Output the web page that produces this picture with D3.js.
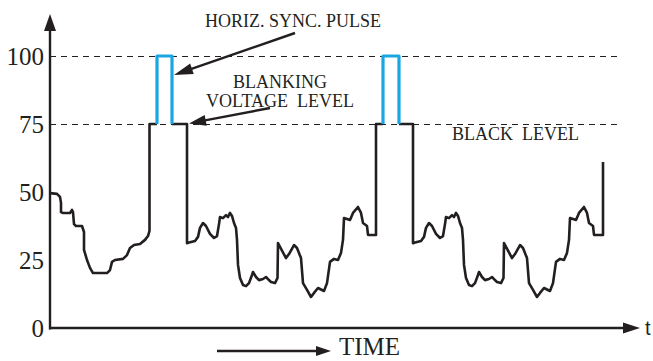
<!DOCTYPE html>
<html>
<head>
<meta charset="utf-8">
<script src="https://cdn.jsdelivr.net/npm/d3@7"></script>
<style>
  body { margin: 0; background: #fff; }
  svg { display: block; }
  .lbl { font-family: "Liberation Serif", "Times New Roman", serif; fill: #231f20; white-space: pre; }
</style>
</head>
<body>
<div id="chart"></div>
<script>
// signal level ticks (percent of max amplitude)
var levelTicks = [0, 25, 50, 75, 100];
var refLevels = [75, 100];

// sync pulses: [start time, end time] sitting on the blanking level
var syncPulses = [[107, 122], [333, 349]];
var blankLevel = 75;
var syncLevel = 100;

// video signal, [time, level]
var video1 = [[0, 49.6], [7, 49.3], [10, 48.2], [11, 46], [11, 42.6], [13, 42.3], [20, 42.3], [22, 43.4],
  [23, 42.6], [24, 38.2], [26, 37.5], [32, 37.5], [34, 35.3], [34, 28.7], [37, 25], [40, 22.1], [43, 20.2],
  [57, 20.2], [60, 21.3], [62, 24.3], [65, 25], [73, 25.4], [77, 26.8], [80, 29.4], [84, 30.5], [90, 30.9],
  [95, 32.4], [98, 33.8], [99.5, 35.7], [99.5, 75], [107, 75]];

var video2 = [[122, 75], [137, 75], [137, 31.2], [139, 31.4], [145, 32], [148, 33.5], [150, 36.8], [153, 38.6],
  [156, 37.5], [160, 34.6], [164, 33.1], [167, 33.8], [169, 38.2], [170, 40.8], [173, 40.4], [176, 41.5],
  [178, 40.8], [180, 42.3], [182, 41.2], [184, 38.6], [186, 36.8], [187, 32.4], [188, 23.2], [190, 18.4],
  [193, 15.8], [196, 15.4], [199, 16.5], [202, 19.5], [203, 20.6], [206, 18.75], [209, 17.6], [213, 18],
  [216, 18.75], [218, 18], [221, 16.9], [225, 16.5], [227.5, 18.4], [228, 31.2], [236, 25.7], [239, 27.2],
  [244, 30.5], [247, 29.4], [251, 25.7], [253, 16.5], [257, 14], [261, 11.4], [264, 12.9], [268, 14.7],
  [274, 13.6], [277, 16.5], [280, 24.3], [284, 25.4], [288, 25], [291, 27.6], [293, 32.4], [294, 40.4],
  [300, 39.7], [303, 42.3], [308, 44.5], [311, 42.3], [313, 38.6], [317, 37.5], [318, 34.2], [326, 34.2],
  [326, 75], [333, 75]];

var video3 = [[349, 75], [363, 75], [363, 31.2], [365, 31.4], [371, 32], [374, 33.5], [376, 36.8], [379, 38.6],
  [382, 37.5], [386, 34.6], [390, 33.1], [393, 33.8], [395, 38.2], [396, 40.8], [399, 40.4], [402, 41.5],
  [404, 40.8], [406, 42.3], [408, 41.2], [410, 38.6], [412, 36.8], [413, 32.4], [414, 23.2], [416, 18.4],
  [419, 15.8], [422, 15.4], [425, 16.5], [428, 19.5], [429, 20.6], [432, 18.75], [435, 17.6], [439, 18],
  [442, 18.75], [444, 18], [447, 16.9], [451, 16.5], [453.5, 18.4], [454, 31.2], [462, 25.7], [465, 27.2],
  [470, 30.5], [473, 29.4], [477, 25.7], [479, 16.5], [483, 14], [487, 11.4], [490, 12.9], [494, 14.7],
  [500, 13.6], [503, 16.5], [506, 24.3], [510, 25.4], [514, 25], [517, 27.6], [519, 32.4], [520, 40.4],
  [526, 39.7], [529, 42.3], [534, 44.5], [537, 42.3], [539, 38.6], [543, 37.5], [544, 34.2], [553, 34.2],
  [553, 61]];

var width = 653, height = 361;
var ink = "#231f20";
var blue = "#1aa7e1";

var svg = d3.select("#chart").append("svg")
  .attr("width", width)
  .attr("height", height);

var x = d3.scaleLinear().domain([0, 590]).range([50, 640]);
var y = d3.scaleLinear().domain([0, 100]).range([328, 56]);

// dashed reference levels
svg.selectAll(".ref").data(refLevels).enter()
  .append("line")
  .attr("class", "ref")
  .attr("x1", x(0)).attr("x2", 622)
  .attr("y1", function(d) { return y(d) + 0.5; })
  .attr("y2", function(d) { return y(d) + 0.5; })
  .attr("stroke", ink)
  .attr("stroke-width", 1.2)
  .attr("stroke-dasharray", "6,5");

// y tick labels
var yAxis = svg.append("g")
  .attr("transform", "translate(" + x(0) + ",0)")
  .call(d3.axisLeft(y).tickValues(levelTicks).tickSize(0).tickPadding(6));
yAxis.select(".domain").remove();
yAxis.selectAll("text")
  .attr("class", "lbl")
  .attr("font-size", "25px")
  .attr("fill", ink);

// axes with arrow heads
svg.append("line")
  .attr("x1", x(0)).attr("y1", y(0) + 1.5)
  .attr("x2", x(0)).attr("y2", 28)
  .attr("stroke", ink).attr("stroke-width", 2.4);
svg.append("path")
  .attr("d", "M" + (x(0) - 6) + ",31L" + x(0) + ",14L" + (x(0) + 6) + ",31Z")
  .attr("fill", ink);
svg.append("line")
  .attr("x1", x(0) - 1).attr("y1", y(0))
  .attr("x2", 626).attr("y2", y(0))
  .attr("stroke", ink).attr("stroke-width", 2.4);
svg.append("path")
  .attr("d", "M623," + (y(0) - 5.5) + "L" + x(590) + "," + y(0) + "L623," + (y(0) + 5.5) + "Z")
  .attr("fill", ink);
svg.append("text")
  .attr("x", 645).attr("y", 335)
  .attr("font-family", "'Liberation Sans', Arial, sans-serif")
  .attr("font-size", "20px")
  .attr("fill", ink)
  .text("t");

var line = d3.line()
  .x(function(d) { return x(d[0]); })
  .y(function(d) { return y(d[1]); });

// black video segments
svg.selectAll(".video").data([video1, video2, video3]).enter()
  .append("path")
  .attr("class", "video")
  .attr("d", line)
  .attr("fill", "none")
  .attr("stroke", ink)
  .attr("stroke-width", 2.6)
  .attr("stroke-linejoin", "round");

// blue sync pulses
svg.selectAll(".sync").data(syncPulses).enter()
  .append("path")
  .attr("class", "sync")
  .attr("d", function(d) {
    return line([[d[0], blankLevel], [d[0], syncLevel], [d[1], syncLevel], [d[1], blankLevel]]);
  })
  .attr("fill", "none")
  .attr("stroke", blue)
  .attr("stroke-width", 3.2)
  .attr("stroke-linejoin", "round");

// annotation arrows
function arrow(x1, y1, x2, y2, len, half) {
  var a = Math.atan2(y2 - y1, x2 - x1);
  var bx = x2 - len * Math.cos(a), by = y2 - len * Math.sin(a);
  svg.append("line")
    .attr("x1", x1).attr("y1", y1)
    .attr("x2", bx + 2 * Math.cos(a)).attr("y2", by + 2 * Math.sin(a))
    .attr("stroke", ink).attr("stroke-width", 2.4);
  svg.append("path")
    .attr("d", "M" + x2 + "," + y2 +
      "L" + (bx - half * Math.sin(a)) + "," + (by + half * Math.cos(a)) +
      "L" + (bx + half * Math.sin(a)) + "," + (by - half * Math.cos(a)) + "Z")
    .attr("fill", ink);
}
arrow(295, 33, x(syncPulses[0][1]) + 2, y(93), 19, 5.5);
arrow(270, 108, x(137) + 2, y(blankLevel) - 0.5, 17, 5.5);
arrow(217, 351, 331, 351, 15, 5);

var labels = [
  { t: "HORIZ. SYNC. PULSE", x: 293, y: 27, size: 18, anchor: "middle" },
  { t: "BLANKING", x: 280, y: 88, size: 18, anchor: "middle" },
  { t: "VOLTAGE  LEVEL", x: 280, y: 107, size: 18, anchor: "middle" },
  { t: "BLACK  LEVEL", x: 452, y: 140, size: 18, anchor: "start" },
  { t: "TIME", x: 339, y: 355, size: 25, anchor: "start" }
];
svg.selectAll(".note").data(labels).enter()
  .append("text")
  .attr("class", "lbl note")
  .attr("x", function(d) { return d.x; })
  .attr("y", function(d) { return d.y; })
  .attr("font-size", function(d) { return d.size + "px"; })
  .attr("text-anchor", function(d) { return d.anchor; })
  .text(function(d) { return d.t; });
</script>
</body>
</html>
